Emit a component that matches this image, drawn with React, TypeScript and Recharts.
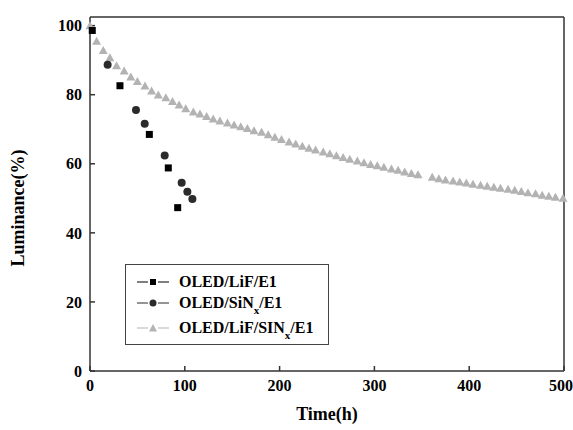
import React from "react";
import {
  ReferenceLine,
  Scatter,
  ScatterChart,
  XAxis,
  YAxis,
} from "recharts";

const xTicks = [0, 100, 200, 300, 400, 500];
const yTicks = [0, 20, 40, 60, 80, 100];

// OLED/LiF/E1
const lifTime = [2.4, 31.6, 62.6, 82.6, 92.5];
const lifLum = [98.6, 82.6, 68.5, 58.8, 47.3];

// OLED/SiNx/E1
const sinTime = [18.6, 48.5, 57.7, 78.8, 96.7, 102.7, 108];
const sinLum = [88.7, 75.6, 71.6, 62.4, 54.5, 51.9, 49.8];

// OLED/LiF/SINx/E1
const bothTime = [
  0, 7, 14, 21, 28, 36, 43, 50, 58, 65, 72, 80, 87, 94, 101, 109, 116, 123,
  130, 137, 145, 152, 159, 166, 173, 181, 188, 195, 202, 210, 217, 224, 231,
  238, 246, 253, 260, 267, 274, 282, 289, 296, 303, 310, 318, 325, 332, 339,
  346, 361, 368, 375, 383, 390, 397, 404, 412, 419, 426, 433, 441, 448, 455,
  462, 470, 477, 484, 491, 499,
];
const bothLum = [
  100, 95.5, 92.8, 90.7, 88.4, 86.9, 85.1, 83.8, 82.5, 81.1, 79.9, 79.1, 78.0,
  77.0, 75.9, 75.0, 74.4, 73.7, 73.0, 72.4, 71.8, 71.2, 70.7, 70.2, 69.6, 69.1,
  68.4, 67.7, 67.0, 66.3, 65.7, 65.1, 64.5, 64.0, 63.4, 62.9, 62.3, 61.8, 61.3,
  60.8, 60.3, 59.8, 59.4, 59.0, 58.5, 58.1, 57.6, 57.2, 56.8, 56.1, 55.7, 55.3,
  55.0, 54.7, 54.4, 54.1, 53.8, 53.5, 53.2, 52.9, 52.6, 52.3, 52.0, 51.6, 51.3,
  50.9, 50.6, 50.3, 50.0,
];

const toPoints = (t: number[], l: number[]) => t.map((x, i) => ({ x, y: l[i] }));

const lifData = toPoints(lifTime, lifLum);
const sinData = toPoints(sinTime, sinLum);
const bothData = toPoints(bothTime, bothLum);

const FONT = "'Liberation Serif', 'Times New Roman', serif";
const AXIS = "#333";

const Square = ({ cx, cy }: any) => (
  <rect x={cx - 3.5} y={cy - 3.5} width={7} height={7} fill="#000" />
);
const Dot = ({ cx, cy }: any) => <circle cx={cx} cy={cy} r={4} fill="#2b2b2b" />;
const Tri = ({ cx, cy }: any) => (
  <path
    d={`M${cx},${cy - 4.5} L${cx + 4.5},${cy + 3.5} L${cx - 4.5},${cy + 3.5} Z`}
    fill="#b3b3b3"
  />
);

const legendRows = [
  { label: "OLED/LiF/E1", sub: "", rest: "", color: "#000", mark: "square" },
  { label: "OLED/SiN", sub: "x", rest: "/E1", color: "#2b2b2b", mark: "circle" },
  { label: "OLED/LiF/SIN", sub: "x", rest: "/E1", color: "#b3b3b3", mark: "tri" },
];

function LegendBox() {
  return (
    <div
      style={{
        position: "absolute",
        left: 125,
        top: 264,
        border: "1px solid #444",
        background: "#fff",
        width: 204,
        height: 81,
        boxSizing: "border-box",
        padding: "7px 0 0 10px",
        fontFamily: FONT,
        fontWeight: "bold",
        fontSize: 16,
        lineHeight: "16px",
        color: "#000",
      }}
    >
      {legendRows.map((r, i) => (
        <div
          key={i}
          style={{ display: "flex", alignItems: "center", height: 20, marginBottom: i === 1 ? 5 : 1 }}
        >
          <svg width={36} height={12} style={{ marginRight: 7, flex: "none" }}>
            <line x1={1} y1={6} x2={12} y2={6} stroke={r.color} strokeWidth={1} />
            <line x1={22} y1={6} x2={33} y2={6} stroke={r.color} strokeWidth={1} />
            {r.mark === "square" && <rect x={14} y={3} width={6} height={6} fill={r.color} />}
            {r.mark === "circle" && <circle cx={17} cy={6} r={3.5} fill={r.color} />}
            {r.mark === "tri" && <path d="M17,2 L21,9.5 L13,9.5 Z" fill={r.color} />}
          </svg>
          <span style={{ whiteSpace: "nowrap", position: "relative" }}>
            {r.label}
            {r.sub && (
              <span style={{ fontSize: 11, position: "relative", top: 6 }}>{r.sub}</span>
            )}
            {r.rest}
          </span>
        </div>
      ))}
    </div>
  );
}

export default function App() {
  const tickStyle = { fontFamily: FONT, fontWeight: "bold", fontSize: 16, fill: "#000" };
  return (
    <div style={{ position: "absolute", left: 0, top: 0, width: 573, height: 430, background: "#fff" }}>
      <ScatterChart
        width={573}
        height={430}
        margin={{ top: 17, right: 9, left: 0, bottom: 0 }}
      >
        <XAxis
          type="number"
          dataKey="x"
          domain={[0, 500]}
          ticks={xTicks}
          height={59}
          tickSize={-5}
          tickMargin={14}
          stroke={AXIS}
          strokeWidth={1.5}
          tick={tickStyle}
          label={() => (
            <text
              x={327}
              y={420}
              textAnchor="middle"
              style={{ fontFamily: FONT, fontWeight: "bold", fontSize: 18 }}
            >
              Time(h)
            </text>
          )}
        />
        <YAxis
          type="number"
          dataKey="y"
          domain={[0, 102.5]}
          ticks={yTicks}
          width={90}
          tickSize={-5}
          tickMargin={13}
          stroke={AXIS}
          strokeWidth={1.5}
          tick={tickStyle}
          label={() => (
            <text
              x={24}
              y={208}
              textAnchor="middle"
              transform="rotate(-90 24 208)"
              style={{ fontFamily: FONT, fontWeight: "bold", fontSize: 18 }}
            >
              Luminance(%)
            </text>
          )}
        />
        <ReferenceLine y={102.5} stroke={AXIS} strokeWidth={1.5} />
        <ReferenceLine x={500} stroke={AXIS} strokeWidth={1.5} />
        <Scatter data={bothData} shape={<Tri />} isAnimationActive={false} />
        <Scatter data={sinData} shape={<Dot />} isAnimationActive={false} />
        <Scatter data={lifData} shape={<Square />} isAnimationActive={false} />
      </ScatterChart>
      <LegendBox />
    </div>
  );
}
